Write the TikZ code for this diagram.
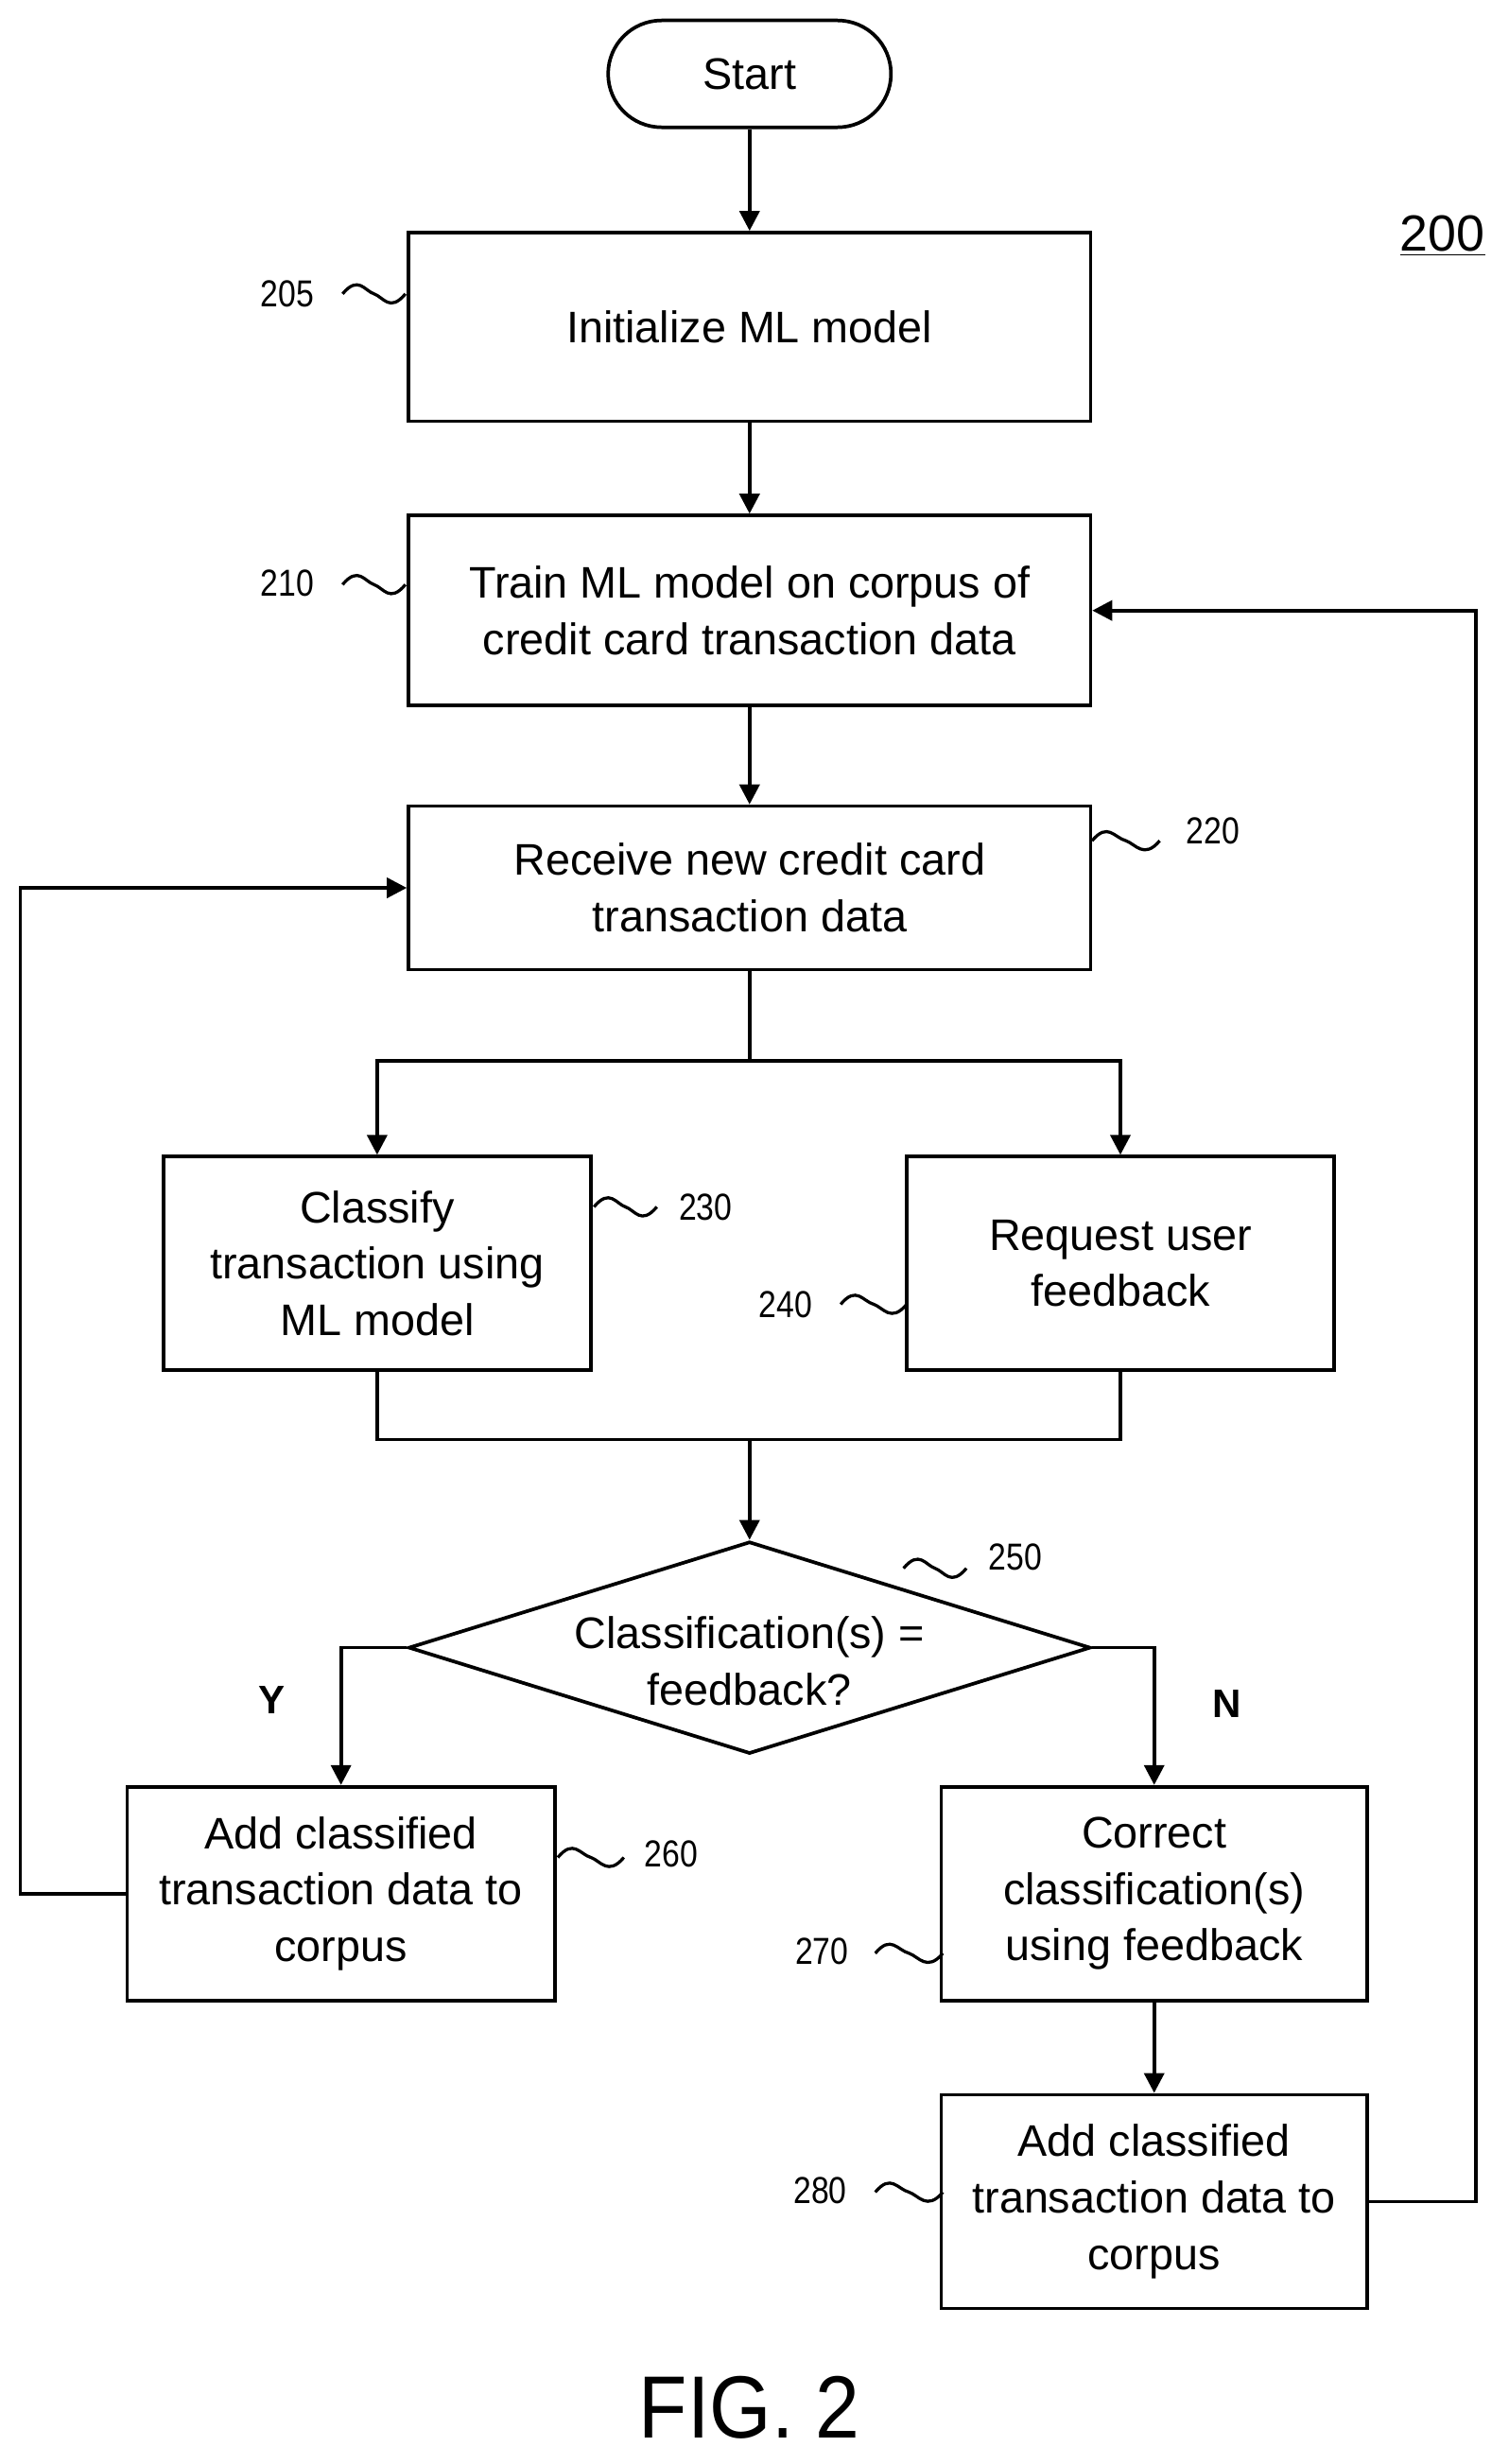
\documentclass[tikz,border=0pt]{standalone}
\usepackage{fontspec}
\setmainfont{Liberation Sans}
\usetikzlibrary{shapes.geometric,arrows.meta}
\begin{document}
\begin{tikzpicture}[x=0.025cm,y=-0.025cm,
 box/.style={draw,line width=1.6pt,inner sep=0,align=center,font=\fontsize{20}{25.5}\selectfont},
 ar/.style={line width=1.6pt,-{Triangle[length=9pt,width=9pt]}},
 ln/.style={line width=1.6pt},
 lab/.style={font=\fontsize{17}{20}\selectfont\addfontfeatures{FakeStretch=0.85}},
 sq/.style={line width=1.4pt}]
\useasboundingbox (0,0) rectangle (960,1568);
\newcommand{\sqg}[3]{\draw[sq] (#1,#3) .. controls (#1+10,#3-12) and (#1+14,#3-2) .. ({(#1+#2)/2},#3) .. controls ({(#2+#1)/2+6},#3+2) and (#2-10,#3+12) .. (#2,#3);}
\node[box,draw,rounded corners=34*0.025cm,minimum width=180*0.025cm,minimum height=68*0.025cm] (s) at (477,47) {Start};
\node[box,minimum width=434*0.025cm,minimum height=120*0.025cm] (b205) at (477,208) {Initialize ML model};
\node[box,minimum width=434*0.025cm,minimum height=121*0.025cm] (b210) at (477,388.5) {Train ML model on corpus of\\credit card transaction data};
\node[box,minimum width=434*0.025cm,minimum height=104*0.025cm] (b220) at (477,565) {Receive new credit card\\transaction data};
\node[box,minimum width=272*0.025cm,minimum height=136*0.025cm] (b230) at (240,804) {Classify\\transaction using\\ML model};
\node[box,minimum width=272*0.025cm,minimum height=136*0.025cm] (b240) at (713,804) {Request user\\feedback};
\node[box,diamond,aspect=3.2,minimum width=434*0.025cm,minimum height=135*0.025cm] (d) at (477,1048.5) {};
\node[font=\fontsize{20}{25.5}\selectfont,align=center] at (477,1057) {Classification(s) =\\feedback?};
\node[box,minimum width=272*0.025cm,minimum height=136*0.025cm] (b260) at (217,1205) {Add classified\\transaction data to\\corpus};
\node[box,minimum width=271*0.025cm,minimum height=136*0.025cm] (b270) at (734.5,1205) {Correct\\classification(s)\\using feedback};
\node[box,minimum width=271*0.025cm,minimum height=136*0.025cm] (b280) at (734.5,1401) {Add classified\\transaction data to\\corpus};
\coordinate (c1) at (477,675);
\coordinate (c2) at (477,916);
\draw[ar] (s) -- (b205);
\draw[ar] (b205) -- (b210);
\draw[ar] (b210) -- (b220);
\draw[ln] (b220) -- (c1);
\draw[ar] (c1) -| (b230);
\draw[ar] (c1) -| (b240);
\draw[ln] (b230.south) |- (c2) -| (b240.south);
\draw[ar] (c2) -- (d.north);
\draw[ar] (d.west) -| (b260.north);
\draw[ar] (d.east) -| (b270.north);
\draw[ar] (b270) -- (b280);
\draw[ar] (b280.east) -- ++(68,0) |- (b210.east);
\draw[ar] (b260.west) -- ++(-67,0) |- (b220.west);
\node[font=\bfseries\fontsize{18}{20}\selectfont] at (173,1082) {Y};
\node[font=\bfseries\fontsize{18}{20}\selectfont] at (781,1084) {N};
\node[font=\fontsize{23}{26}\selectfont] at (918,150) {\underline{200}};
\node[font=\fontsize{40}{44}\selectfont\addfontfeatures{FakeStretch=0.9}] (fig) at (477,1532) {FIG. 2};
\node[lab] at (183,187) {205}; \sqg{218}{258}{187}
\node[lab] at (183,371) {210}; \sqg{218}{258}{372}
\node[lab] at (772,529) {220}; \sqg{695}{738}{535}
\node[lab] at (449,768) {230}; \sqg{378}{418}{768}
\node[lab] at (500,830) {240}; \sqg{535}{577}{830}
\node[lab] at (646,991) {250}; \sqg{575}{615}{998}
\node[lab] at (427,1180) {260}; \sqg{355}{397}{1182}
\node[lab] at (523,1242) {270}; \sqg{557}{600}{1243}
\node[lab] at (522,1394) {280}; \sqg{557}{600}{1395}
\end{tikzpicture}
\end{document}
